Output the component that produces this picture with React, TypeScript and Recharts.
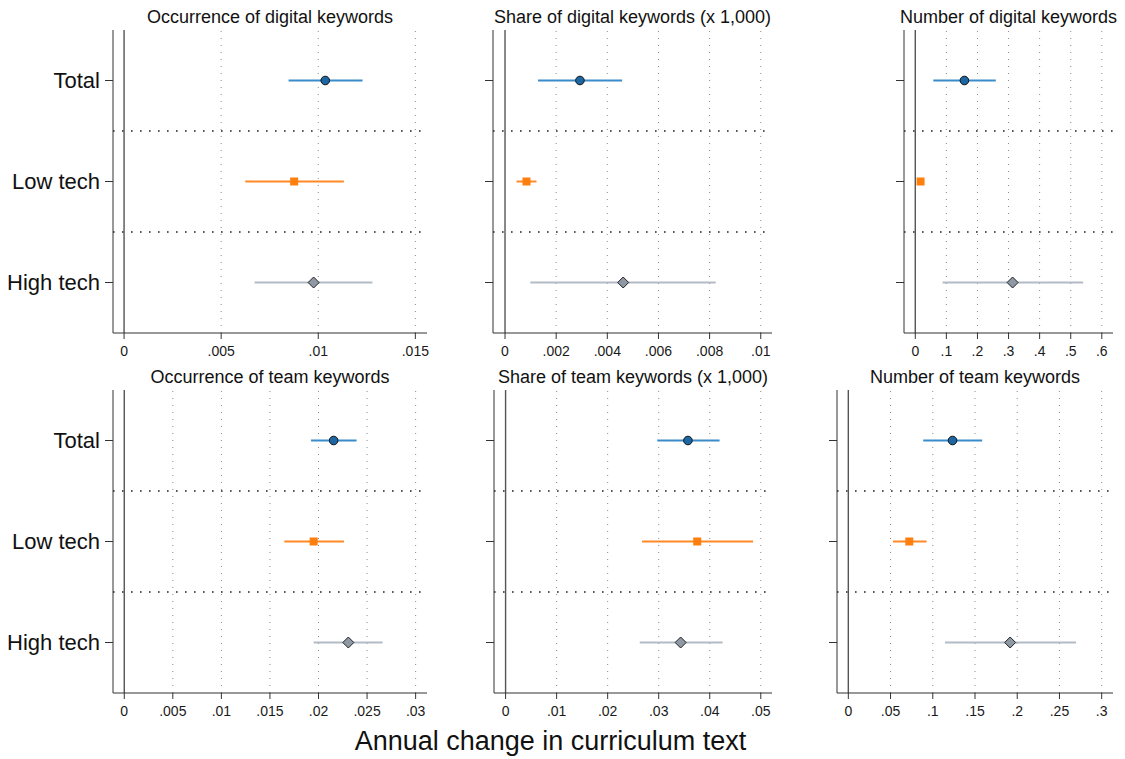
import { ScatterChart, Scatter, XAxis, YAxis, ReferenceLine } from 'recharts';

const FONT = '"Liberation Sans", Arial, Helvetica, sans-serif';

// rows shown on every panel (top to bottom)
const ROW_LABELS = ['Total', 'Low tech', 'High tech'];
const ROW_POS = [1, 2, 3];
const ROW_DIVIDERS = [1.5, 2.5];

// Occurrence of digital keywords
const digOccEst = [0.01036, 0.00876, 0.00976];
const digOccLo = [0.00847, 0.00624, 0.00672];
const digOccHi = [0.01228, 0.01132, 0.01279];
const digOccTicks = [0, 0.005, 0.01, 0.015];

// Share of digital keywords (x 1,000)
const digShrEst = [0.00293, 0.00084, 0.00462];
const digShrLo = [0.00129, 0.00045, 0.00099];
const digShrHi = [0.00458, 0.00123, 0.00824];
const digShrTicks = [0, 0.002, 0.004, 0.006, 0.008, 0.01];

// Number of digital keywords
const digNumEst = [0.158, 0.017, 0.313];
const digNumLo = [0.058, 0.01, 0.088];
const digNumHi = [0.259, 0.024, 0.54];
const digNumTicks = [0, 0.1, 0.2, 0.3, 0.4, 0.5, 0.6];

// Occurrence of team keywords
const teamOccEst = [0.02156, 0.0195, 0.02307];
const teamOccLo = [0.01923, 0.01648, 0.0195];
const teamOccHi = [0.02392, 0.02262, 0.0266];
const teamOccTicks = [0, 0.005, 0.01, 0.015, 0.02, 0.025, 0.03];

// Share of team keywords (x 1,000)
const teamShrEst = [0.03573, 0.03755, 0.0343];
const teamShrLo = [0.02973, 0.02674, 0.02629];
const teamShrHi = [0.04193, 0.0485, 0.04252];
const teamShrTicks = [0, 0.01, 0.02, 0.03, 0.04, 0.05];

// Number of team keywords
const teamNumEst = [0.1234, 0.0722, 0.1916];
const teamNumLo = [0.0887, 0.0529, 0.1144];
const teamNumHi = [0.1585, 0.0927, 0.2697];
const teamNumTicks = [0, 0.05, 0.1, 0.15, 0.2, 0.25, 0.3];

// per-row look: CI line colour + marker
const ROW_STYLE = [
  { line: '#3a8bc9', fill: '#1c66a3', stroke: '#111', kind: 'circle' },
  { line: '#ff8a25', fill: '#ff7f0e', stroke: 'none', kind: 'square' },
  { line: '#b3bbc6', fill: '#8f99a5', stroke: '#222', kind: 'diamond' },
];

const PANELS = [
  { title: 'Occurrence of digital keywords', est: digOccEst, lo: digOccLo, hi: digOccHi, ticks: digOccTicks,
    domain: [-0.00057, 0.0156], left: 113, top: 30, width: 314, labels: true },
  { title: 'Share of digital keywords (x 1,000)', est: digShrEst, lo: digShrLo, hi: digShrHi, ticks: digShrTicks,
    domain: [-0.00047, 0.01044], left: 493, top: 30, width: 279, labels: false },
  { title: 'Number of digital keywords', est: digNumEst, lo: digNumLo, hi: digNumHi, ticks: digNumTicks,
    domain: [-0.0363, 0.636], left: 904, top: 30, width: 209, labels: false },
  { title: 'Occurrence of team keywords', est: teamOccEst, lo: teamOccLo, hi: teamOccHi, ticks: teamOccTicks,
    domain: [-0.00116, 0.03117], left: 113, top: 390, width: 314, labels: true },
  { title: 'Share of team keywords (x 1,000)', est: teamShrEst, lo: teamShrLo, hi: teamShrHi, ticks: teamShrTicks,
    domain: [-0.00227, 0.0522], left: 494, top: 390, width: 278, labels: false },
  { title: 'Number of team keywords', est: teamNumEst, lo: teamNumLo, hi: teamNumHi, ticks: teamNumTicks,
    domain: [-0.0134, 0.3134], left: 837, top: 390, width: 276, labels: false },
];

const fmtTick = (v: number) => (v === 0 ? '0' : String(v).replace(/^0\./, '.'));

function Marker(props: any) {
  const { cx, cy, row } = props;
  const s = ROW_STYLE[row];
  if (s.kind === 'circle') return <circle cx={cx} cy={cy} r={4.3} fill={s.fill} stroke={s.stroke} strokeWidth={1} />;
  if (s.kind === 'square') return <rect x={cx - 4} y={cy - 4} width={8} height={8} fill={s.fill} />;
  return (
    <polygon
      points={`${cx},${cy - 5.5} ${cx + 5.5},${cy} ${cx},${cy + 5.5} ${cx - 5.5},${cy}`}
      fill={s.fill}
      stroke={s.stroke}
      strokeWidth={1}
    />
  );
}

function Panel({ p }: { p: any }) {
  const yw = p.labels ? 113 : 22;
  const plotH = 303;
  const axisH = 40;
  return (
    <>
      <div
        style={{
          position: 'absolute', left: p.left - 40, width: p.width + 80, top: p.top - 23,
          textAlign: 'center', fontSize: 18, lineHeight: '20px', whiteSpace: 'nowrap', color: '#111',
        }}
      >
        {p.title}
      </div>
      <div style={{ position: 'absolute', left: p.left - yw, top: p.top - 30 }}>
        <ScatterChart width={yw + p.width + 4} height={30 + plotH + axisH} margin={{ top: 30, right: 4, bottom: 0, left: 0 }}>
          <XAxis
            type="number"
            dataKey="x"
            domain={p.domain}
            allowDataOverflow
            ticks={p.ticks}
            interval={0}
            tickFormatter={fmtTick}
            height={axisH}
            tickSize={6}
            tickMargin={7}
            stroke="#333"
            tick={{ fontSize: 14, fill: '#1a1a1a', fontFamily: FONT }}
          />
          <YAxis
            type="number"
            dataKey="y"
            domain={[0.5, 3.5]}
            reversed
            allowDataOverflow
            ticks={ROW_POS}
            interval={0}
            width={yw}
            tickSize={8}
            tickMargin={5}
            stroke="#333"
            tickFormatter={(v: number) => (p.labels ? ROW_LABELS[v - 1] : '')}
            tick={{ fontSize: 22, fill: '#111', fontFamily: FONT }}
          />
          {p.ticks.filter((t: number) => t !== 0).map((t: number) => (
            <ReferenceLine key={`g-${t}`} x={t} stroke="#8a8a8a" strokeDasharray="1 6" />
          ))}
          {ROW_DIVIDERS.map((d) => (
            <ReferenceLine key={d} y={d} stroke="#222" strokeDasharray="1.6 7.4" strokeWidth={1.5} />
          ))}
          <ReferenceLine x={0} stroke="#555" strokeWidth={1.4} />
          {ROW_POS.map((y, i) => (
            <Scatter
              key={`ci-${i}`}
              data={[{ x: p.lo[i], y }, { x: p.hi[i], y }]}
              line={{ stroke: ROW_STYLE[i].line, strokeWidth: 2 }}
              shape={() => <g />}
              isAnimationActive={false}
            />
          ))}
          {ROW_POS.map((y, i) => (
            <Scatter
              key={`pt-${i}`}
              data={[{ x: p.est[i], y }]}
              shape={(props: any) => <Marker {...props} row={i} />}
              isAnimationActive={false}
            />
          ))}
        </ScatterChart>
      </div>
    </>
  );
}

export default function App() {
  return (
    <div
      style={{
        position: 'absolute', left: 0, top: 0, width: 1125, height: 759,
        background: '#fff', fontFamily: FONT, overflow: 'hidden',
      }}
    >
      {PANELS.map((p) => (
        <Panel key={p.title} p={p} />
      ))}
      <div
        style={{
          position: 'absolute', left: 250, width: 601, top: 725, textAlign: 'center',
          fontSize: 27, lineHeight: '32px', whiteSpace: 'nowrap', color: '#111',
        }}
      >
        Annual change in curriculum text
      </div>
    </div>
  );
}
